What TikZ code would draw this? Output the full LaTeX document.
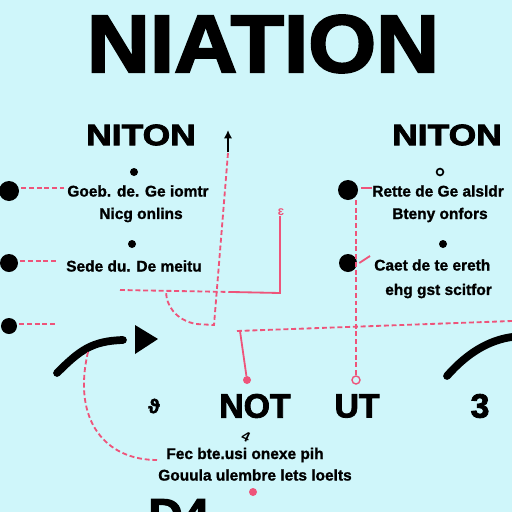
\documentclass[tikz,border=0pt]{standalone}
\usepackage{fontspec}
\setmainfont{Liberation Sans}
\newfontfamily\heavyfont[FakeBold=2.5]{Liberation Sans Bold}
\newfontfamily\semiheavy[FakeBold=1.2]{Liberation Sans Bold}
\usepackage{graphicx}
\usetikzlibrary{arrows.meta}

\definecolor{bgcyan}{RGB}{207,246,250}
\definecolor{wirepink}{RGB}{238,84,122}

\tikzset{
  bigdot/.style={circle,fill=black,inner sep=0pt,minimum size=#1},
  pinkdot/.style={circle,fill=wirepink,inner sep=0pt,minimum size=0.2cm},
  ringdot/.style={circle,draw=wirepink,line width=1pt,fill=bgcyan,inner sep=0pt,minimum size=0.2cm},
  wire/.style={draw=wirepink,line width=1.3pt,dash pattern=on 3.5pt off 2pt},
  solidwire/.style={draw=wirepink,line width=1.3pt},
  blurb/.style={font=\semiheavy\fontsize{11}{13}\selectfont,inner sep=0pt},
  heading/.style={font=\heavyfont\fontsize{21}{24}\selectfont,inner sep=0pt},
  gatename/.style={font=\heavyfont\fontsize{24}{27}\selectfont,inner sep=0pt},
  swoosh/.style={line width=5.5pt,line cap=round}
}

\begin{document}
\begin{tikzpicture}[x=0.025cm,y=-0.025cm]
  \fill[bgcyan] (0,0) rectangle (512,512);
  \useasboundingbox (0,0) rectangle (512,512);
  \clip (0,0) rectangle (512,512);
  % title
  \node[font=\heavyfont\fontsize{58}{60}\selectfont,inner sep=0pt] (title) at (263,44) {\scalebox{1.07}[1]{NIATION}};
  \node[heading] (hl) at (141,135) {\scalebox{1.2}[1]{NITON}};
  \node[heading] (hr) at (447,135) {\scalebox{1.2}[1]{NITON}};
  % left column
  \node[bigdot=0.5cm] (l1) at (9,191) {};
  \node[bigdot=0.45cm] (l2) at (9,263) {};
  \node[bigdot=0.4cm] (l3) at (9,326) {};
  \node[bigdot=0.2cm] (s1) at (134,172) {};
  \node[bigdot=0.2cm] (s2) at (132,244) {};
  \node[blurb] (t1) at (138,191) {Goeb. de. Ge iomtr};
  \node[blurb] (t2) at (141,215) {Nicg onlins};
  \node[blurb] (t3) at (134,266) {Sede du. De meitu};
  \coordinate (e1) at (64,188);
  \coordinate (e2) at (58,261);
  \coordinate (e3) at (55,324);
  \draw[wire] (l1.east) ++(2,-3) -- (e1);
  \draw[wire] (l2.east) ++(2,-2) -- (e2);
  \draw[wire] (l3.east) ++(2,-2) -- (e3);
  % right column
  \node[bigdot=0.5cm] (r1) at (348,190) {};
  \node[bigdot=0.45cm] (r2) at (348,263) {};
  \node[circle,draw=black,line width=1.2pt,inner sep=0pt,minimum size=0.17cm] (s3) at (440,172) {};
  \node[bigdot=0.2cm] (s4) at (443,244) {};
  \node[blurb,anchor=west] (t4) at (372,191) {Rette de Ge alsldr};
  \node[blurb,anchor=west] (t5) at (392,215) {Bteny onfors};
  \node[blurb,anchor=west] (t6) at (374,265) {Caet de te ereth};
  \node[blurb,anchor=west] (t7) at (385,291) {ehg gst scitfor};
  \coordinate (f1) at (372,188);
  \coordinate (f2) at (370,256);
  \draw[solidwire] (r1.east) ++(3,-2) -- (f1);
  \draw[solidwire] (r2.east) ++(2,0) -- (f2);
  % middle wires
  \node[inner sep=0pt] (mark) at (228,140) {};
  \draw[-{Latex[length=6pt,width=6pt]},line width=1.5pt] (228,152) -- (228,130);
  \coordinate (m1) at (228,153);
  \coordinate (m2) at (214,325);
  \coordinate (m3) at (166,291);
  \draw[wire] (m1) -- (m2) -- (196,324) .. controls (176,320) and (166,306) .. (m3);
  \coordinate (h1) at (120,290);
  \coordinate (h2) at (280,293);
  \coordinate (h3) at (280,216);
  \draw[wire] (h1) -- (232,292);
  \draw[solidwire] (232,292) -- (h2) -- (h3);
  \node[text=wirepink,font=\bfseries\fontsize{9}{9}\selectfont,inner sep=0pt] (eps) at (281,212) {ɛ};
  % bus
  \coordinate (b1) at (237,331);
  \coordinate (b2) at (512,321);
  \draw[wire] (b1) -- (b2);
  \node[pinkdot] (p1) at (247,380) {};
  \draw[solidwire] (240,331) -- (p1);
  \node[ringdot] (p2) at (356,380) {};
  \draw[wire] (356,200) -- (p2);
  % swooshes
  \draw[swoosh] (57,373) .. controls (80,350) and (92,341) .. (123,340);
  \fill (135,325) -- (158,339) -- (135,354) -- cycle;
  \draw[swoosh] (447,376) .. controls (468,352) and (490,340) .. (512,337);
  \draw[wire] (88,352) .. controls (72,420) and (105,460) .. (157,460);
  % bottom labels
  \node[gatename] (g1) at (255,406) {NOT};
  \node[gatename] (g2) at (357,406) {UT};
  \node[gatename] (g3) at (480,406) {3};
  \node[font=\heavyfont\fontsize{14}{14}\selectfont,inner sep=0pt] (g0) at (154,406) {ϑ};
  \node[font=\bfseries\fontsize{10}{10}\selectfont,inner sep=0pt,rotate=-25] (tick) at (246,437) {4};
  \node[blurb] (t8) at (245,455) {Fec bte.usi onexe pih};
  \node[blurb] (t9) at (255,475) {Gouula ulembre lets loelts};
  \node[pinkdot] (p3) at (253,492) {};
  \node[anchor=north west,font=\heavyfont\fontsize{34}{34}\selectfont,inner sep=0pt] (d4) at (148,499) {D4};
\end{tikzpicture}
\end{document}
